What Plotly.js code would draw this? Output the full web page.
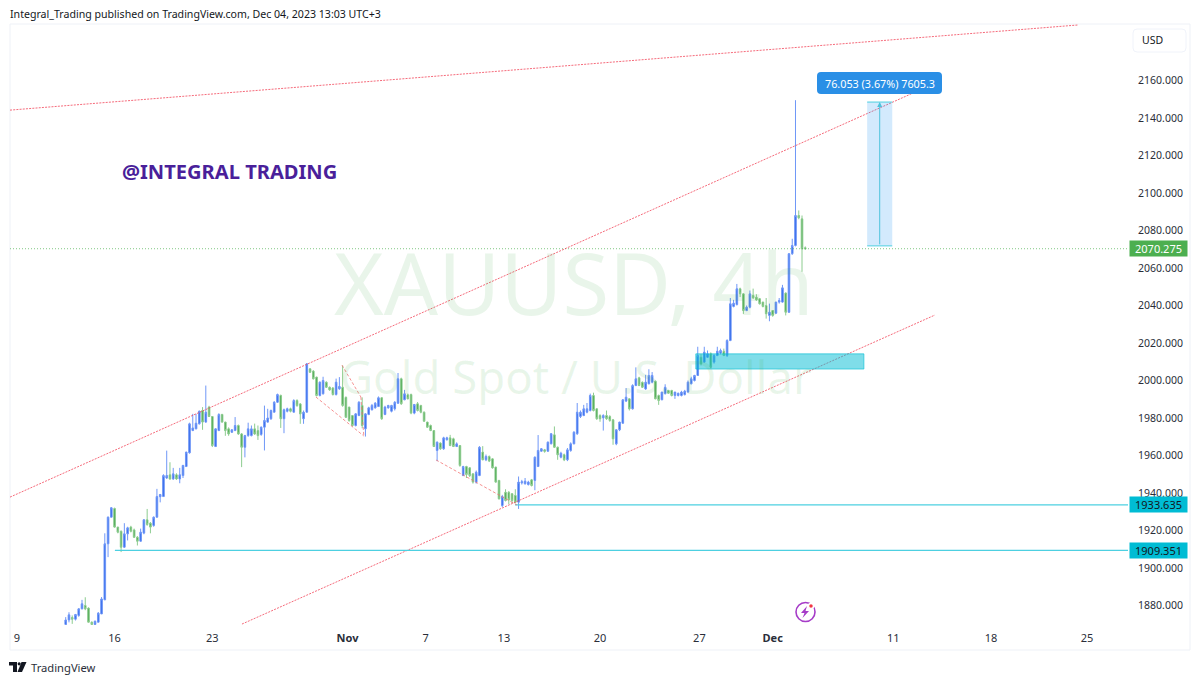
<!DOCTYPE html>
<html><head><meta charset="utf-8">
<script src="https://cdn.plot.ly/plotly-3.0.1.min.js"></script>
<style>html,body{margin:0;padding:0;background:#fff}#c{width:1200px;height:683px}</style>
</head><body><div id="c"></div>
<script>
const opens=[1869.9,1872.3,1873.6,1872.7,1874.7,1878.2,1880,1878.6,1871.1,1869.9,
1871.1,1875.5,1883,1912.9,1927.1,1931.7,1921.8,1919.6,1911.1,1918.2,
1921.8,1920.3,1916.4,1914.3,1918.6,1925.7,1923.9,1922.7,1927.1,1938,
1938.1,1948,1949.7,1947.5,1949.7,1947.5,1949.3,1954.1,1961.4,1973.3,
1974.2,1976.9,1984,1977.8,1985.8,1980.8,1964.8,1973.3,1981.9,1977.8,
1974.2,1972.4,1973.3,1976,1971.5,1964.4,1970.6,1970.6,1974.2,1973.3,
1971.2,1975.1,1977.8,1979.6,1983.1,1988.4,1992,1979.6,1983.6,1984.9,
1983.1,1989.3,1987.5,1979.6,1983.1,2006.2,2005,2001.8,1992,1992.9,
1999.1,1996.4,1996,1992.5,1995.6,1996.4,1991,1985.8,1981.3,1976,
1981.3,1986.7,1974.2,1981.9,1984.4,1985.4,1986.1,1990.8,1981.9,1985.4,
1983.6,1984.9,1987.9,2000.9,1989.7,1992.4,1992.5,1982.6,1987.6,1986.7,
1983.1,1977.8,1976,1973.3,1962.7,1966.6,1963.6,1968.4,1969.4,1968.9,
1964.8,1965.3,1949.3,1954.1,1953.4,1950.2,1945.8,1949.3,1961.8,1957.7,
1959.5,1958.2,1953.8,1946.7,1933.3,1940.4,1940.4,1939.6,1938.7,1935.1,
1945.4,1944.9,1944.5,1947,1946.7,1954.1,1962.3,1963,1962.3,1966.2,
1971,1964.4,1959.1,1960.4,1957.7,1962.7,1966.2,1971.6,1980.8,1981.3,
1983.1,1984,1992,1984.9,1981.3,1980.1,1981.3,1980.8,1979,1966.2,
1973.7,1977.2,1989,1990.2,1984.9,1997.3,2001.4,1999,1995.5,1998.2,
1999.1,1999.6,1992,1989.7,1993,1994.7,1994.7,1992,1992,1992,
1992.5,1993.8,1998.2,2000,2002.7,2012.4,2009.8,2012.4,2014.2,2009.8,
2013.3,2014.6,2015.6,2013.3,2021.3,2039.5,2040.5,2048.9,2046.2,2037.3,
2039.1,2045.3,2044.4,2043.6,2041.8,2040,2034.7,2037.3,2035.9,2041.8,
2041.8,2046.6,2036.4,2067.6,2072,2088,2086.2,2070.8];
const highs=[1873.8,1876.4,1874.7,1875.5,1878.5,1883,1884.4,1879,1871.5,1872,
1876.5,1884.5,1918.5,1927.5,1932.5,1932.2,1922,1920,1923.9,1922,
1922.5,1921,1917,1921,1926,1931.5,1924.5,1927.5,1942.2,1939.5,
1950,1962.6,1956.4,1953.4,1950.5,1953.4,1955,1962,1977.5,1982.2,
1982.2,1984,1985.8,1997.3,1986.5,1981,1974.5,1982.5,1982.2,1978,
1975,1974,1980.5,1976.5,1972,1971,1977.5,1976,1977,1976,
1975.5,1986.6,1984.9,1984.5,1989,1993,1992.5,1985,1985.5,1985.5,
1990,1990,1988,1984,2009.2,2006.5,2005.5,2002,1999.5,2002,
1999.5,1996.8,1996.5,2001,2001.8,2008,1991.5,1986,1981.5,1982.5,
1989,1991,1982.5,1986,1987.5,1988.5,1991.5,1991,1986.5,1987,
1987,1989,2004,2001.5,1995,1993,1993,1987.5,1988.5,1987,
1983.5,1978,1976.5,1973.5,1967.5,1967,1970,1970,1971,1969.5,
1967,1965.5,1954.5,1954.5,1953.8,1950.5,1952,1965,1965,1960.5,
1960,1958.5,1954,1947,1939,1942,1941,1940,1942,1948.8,
1947,1948,1946.5,1947.5,1959.5,1970.9,1964,1963.5,1967.5,1972,
1975.5,1964.8,1962,1961,1964,1967,1973,1988,1984,1987,
1988,1993,1993.5,1985,1982,1982,1984,1981.5,1979.5,1974,
1978,1990,1996,1990.5,1998,2007,2002,1999.5,2003,2006,
2004.5,2000,1992.5,1994,1998,1995,1995,1994,1993.5,1994.5,
1995,2000,2002,2003,2018,2014,2018,2016,2015,2014,
2018,2017,2017,2022,2044,2043,2051.5,2049.5,2046.5,2040,
2048,2049,2046,2044,2042,2044,2041,2037.5,2042,2044,
2051,2047,2068,2075.6,2149.5,2090.7,2088,2071.5];
const lows=[1869.3,1871,1870.2,1872,1874,1878,1877.5,1871,1869.5,1869.5,
1871,1875.5,1883,1905.8,1927,1921.5,1918.5,1908.5,1910.8,1914.7,
1919,1916,1912,1914,1918,1922.5,1918.5,1922,1927,1935,
1938,1947.5,1947,1947,1947,1945.2,1948,1954,1961,1973,
1974,1976.5,1973.7,1977.5,1980.5,1964.5,1964.5,1973,1977.5,1970.5,
1970.5,1972,1973,1971,1953.8,1959,1970,1970.2,1971,1968.3,
1970.5,1962.7,1977.5,1979,1983,1988,1974.7,1971.9,1983,1983,
1983,1986,1976.9,1976.9,1983,2004,2000.5,1991.5,1991.5,1992.5,
1996,1994.5,1992,1992,1995,1986,1980,1978,1975.5,1975.5,
1981,1974.5,1970.1,1981.5,1984,1985,1986,1979,1981.5,1985,
1983,1984,1987.5,1987,1989.5,1990,1982,1982,1983.5,1982.5,
1978,1974.7,1973,1964.5,1957,1963,1963,1968,1965,1964.5,
1964.5,1954,1949,1948,1948.5,1945,1945,1949,1957.5,1957,
1956.5,1953,1945.5,1936.5,1932.5,1935.5,1934,1934.5,1934.5,1931.5,
1944.5,1944.5,1944,1943.5,1941.5,1954,1962,1961.5,1962,1966,
1964,1957.7,1958.5,1957,1957,1962,1966,1971,1980,1981,
1982.5,1983.5,1983.5,1979,1978,1973.3,1979,1978,1965.7,1965.5,
1973,1977,1988.5,1984,1984.5,1997,1997,1996,1995,1998,
1998.5,1990,1987,1989.5,1992.5,1993,1991.5,1990.2,1991.5,1991.5,
1992,1993.5,1998,1999.5,2002.5,2008,2009.5,2012,2006.5,2009,
2013,2014,2013,2012.5,2021,2039,2040,2044.5,2035.5,2037,
2038.5,2043.5,2042.5,2040.5,2039,2033,2031.6,2034,2035.5,2041,
2041.5,2034.7,2036,2067,2071.5,2086,2058,2069.8];
const closes=[1872.3,1875,1872.7,1875.2,1878.2,1880.9,1878.2,1871.1,1869.9,1871.6,
1875.9,1883.5,1912.9,1927.1,1932.1,1921.8,1919.1,1911.1,1918.2,1921.4,
1919.6,1916.4,1914.3,1919.1,1925.7,1923.2,1921.8,1927.1,1938.1,1939.2,
1949.3,1949.3,1947.5,1950.2,1947.5,1949.7,1954.7,1961.8,1976.9,1974.7,
1977.2,1983.6,1977.8,1983.1,1980.8,1965.3,1974.2,1981.9,1977.8,1973.3,
1971.5,1973.7,1976,1971.5,1964.4,1970.6,1974.2,1974.2,1971.5,1970.6,
1975.1,1978.7,1980,1984,1988.4,1992.5,1979.6,1984.4,1984.9,1983.6,
1989.3,1986.6,1982.2,1983.1,2008.9,2004.4,2000.9,1992,1999.1,2000,
1996.4,1995,1992.5,1999.1,1996.8,1986.7,1980.4,1978.7,1976,1982.2,
1988.4,1976,1982.2,1985.4,1986.7,1987.9,1990.8,1979.6,1985.8,1986.7,
1986.7,1988.4,2000.9,1987.6,1992.9,1990.2,1982.6,1987.2,1984,1983.1,
1978.3,1975.1,1973.3,1964.8,1967.1,1963.6,1969.4,1969.4,1965.3,1964.8,
1966.2,1954.7,1954.1,1949.9,1949.3,1945.8,1951.1,1964.4,1957.7,1959.5,
1957,1953.4,1945.8,1936.9,1938.1,1936,1936.4,1936,1935.1,1945.8,
1946,1946.3,1945.8,1944,1959.1,1962.7,1963.6,1962.2,1967.1,1971.6,
1964.4,1960.4,1961.2,1957.7,1963,1966.2,1972.4,1983.1,1983.1,1984.9,
1984.9,1992,1984,1979.6,1979.6,1981.3,1979.6,1978.7,1968.9,1973.7,
1977.8,1989.7,1991.1,1984.9,1997.3,2000.9,1997.3,1996.4,1999.1,2002.7,
2002.7,1990.2,1989.3,1993.8,1996.4,1993.2,1992,1993.8,1993.2,1993.8,
1994.3,1999.1,2000.9,2002.7,2013.3,2008.9,2015.1,2014.2,2007.1,2013.3,
2015.6,2016,2013.3,2021.3,2040.9,2041.2,2048.9,2046.2,2037.3,2039.1,
2046.2,2044.1,2043,2040.9,2039.5,2035.6,2036.4,2034.7,2041.8,2042.7,
2049.4,2036.4,2067.6,2072,2088,2086.8,2070.2,2070.275];
const candleIndex=opens.map((_,i)=>i);

const dateTickPositions=[-15,15,45,86.5,110.5,134.5,164,194.5,217,254,284,313.5];
const dateTickLabels=['9','16','23','<b>Nov</b>','7','13','20','27','<b>Dec</b>','11','18','25'];
const priceTicks=[1880,1900,1920,1940,1960,1980,2000,2020,2040,2060,2080,2100,2120,2140,2160];

const lastPrice=2070.275, levelA=1933.635, levelB=1909.351;

// plot-frame helpers (layout decoration only)
const W=1200,H=683,L=10,R=1128,T=24,B=625;
const X0=-17.1,X1=326.06,Y0=1869.6,Y1=2190.13;
const px=v=>(v-L)/(R-L), py=v=>(B-v)/(B-T);

function line(x0,y0,x1,y1,color,dash,width){return {type:'line',xref:'x',yref:'y',x0,y0,x1,y1,line:{color,dash,width:width||1}};}
function pxPath(points,fill){
  return {type:'path',xref:'paper',yref:'paper',path:'M'+points.map(p=>px(p[0])+','+py(p[1])).join('L')+'Z',fillcolor:fill,line:{width:0},layer:'above'};
}
function pxRound(x0,y0,x1,y1,r,fill,stroke){
  const P=(a,b)=>px(a)+','+py(b);
  return {type:'path',xref:'paper',yref:'paper',layer:'above',fillcolor:fill,line:{width:stroke?1:0,color:stroke||fill},
   path:`M${P(x0+r,y0)}L${P(x1-r,y0)}Q${P(x1,y0)} ${P(x1,y0+r)}L${P(x1,y1-r)}Q${P(x1,y1)} ${P(x1-r,y1)}L${P(x0+r,y1)}Q${P(x0,y1)} ${P(x0,y1-r)}L${P(x0,y0+r)}Q${P(x0,y0)} ${P(x0+r,y0)}Z`};
}
const RED='rgba(242,70,90,0.8)', DASHRED='rgba(242,110,110,0.75)', CYAN='#4dd0e1', DOTS='2px,1.2px';
const shapes=[
  line(X0,lastPrice,X1,lastPrice,'rgba(76,175,80,0.7)','1px,2px'),
  line(X0,1937.8,260.7,2153.8,RED,DOTS),
  line(X0,2144.2,310.7,2189.6,RED,DOTS),
  line(54.1,1870.1,266.8,2034.9,RED,DOTS),
  line(137.9,levelA,X1,levelA,CYAN,'solid',1.2),
  line(15.1,levelB,X1,levelB,CYAN,'solid',1.2),
  line(76.8,1991.2,91.5,1970.4,DASHRED,'3px,2px'),
  line(84.8,2008.2,90.6,1991.2,DASHRED,'3px,2px'),
  line(90.6,1991.2,91.5,1970.4,DASHRED,'3px,2px'),
  line(113.7,1957.6,138.5,1933.6,DASHRED,'3px,2px'),
  {type:'rect',xref:'x',yref:'y',x0:193.4,x1:245,y0:2006.1,y1:2014.2,fillcolor:'rgba(0,188,212,0.5)',line:{color:'rgba(0,188,212,0.6)',width:1}},
  {type:'rect',xref:'x',yref:'y',x0:246,x1:253.7,y0:2071.8,y1:2148.5,fillcolor:'rgba(33,150,243,0.2)',line:{width:0}},
  line(246,2148.5,253.7,2148.5,CYAN,'solid'),
  line(246,2071.8,253.7,2071.8,CYAN,'solid'),
  // outer frame
  {type:'rect',xref:'paper',yref:'paper',x0:0,x1:px(1190),y0:py(650),y1:1,line:{color:'#eef1f7',width:1},fillcolor:'rgba(0,0,0,0)',layer:'below'},
  // measure label
  pxRound(817,72,942,94,4,'#2a8fe6'),
  // currency box
  pxRound(1133,29,1186,52,4,'#ffffff','#f0f3fa'),
  // lightning icon
  {type:'circle',xref:'paper',yref:'paper',x0:px(796),x1:px(815),y0:py(621.5),y1:py(602.5),line:{color:'#a63cc8',width:1.6},fillcolor:'rgba(0,0,0,0)'},
  pxPath([[807,606],[801,613],[804.5,613],[802.5,618],[809,611],[805.5,611]],'#a63cc8'),
  {type:'circle',xref:'paper',yref:'paper',x0:px(808.5),x1:px(813.5),y0:py(608.5),y1:py(603.5),line:{width:1.5,color:'#fff'},fillcolor:'#f23645'},
  // TradingView logo
  pxPath([[9,662],[17,662],[17,672],[13,672],[13,665.5],[9,665.5]],'#131722'),
  {type:'circle',xref:'paper',yref:'paper',x0:px(17.6),x1:px(20.8),y0:py(665.4),y1:py(662.2),line:{width:0},fillcolor:'#131722'},
  pxPath([[21.5,662],[26.5,662],[22,672],[17.5,672]],'#131722')
];
const FONT='"Noto Sans", "DejaVu Sans", sans-serif', TXT='#2a2e39';
function note(text,x,y,size,color,anchor,extra){return Object.assign({text,x,y,xref:'paper',yref:'paper',xanchor:anchor||'left',yanchor:'middle',showarrow:false,font:{size,color,family:FONT}},extra||{});}
function tag(text,price,bg,fg){return {text,x:px(1158.5),y:price,xref:'paper',yref:'y',xanchor:'center',yanchor:'middle',showarrow:false,bgcolor:bg,width:57,height:15,borderpad:0,font:{size:11,color:fg,family:FONT}};}
const annotations=[
  note('XAUUSD, 4h',px(574),py(282),85,'rgba(76,175,80,0.12)','center'),
  note('Gold Spot / U.S. Dollar',px(576),py(376),45.5,'rgba(76,175,80,0.12)','center'),
  note('<b>@INTEGRAL TRADING</b>',px(120),py(171),20.1,'#4a1f9a','left'),
  note('Integral_Trading published on TradingView.com, Dec 04, 2023 13:03 UTC+3',px(7.5),py(14),10.6,'#131722','left'),
  note('TradingView',px(29),py(667),11.2,'#2a2e39','left'),
  note('USD',px(1140),py(40),10.5,'#131722','left'),
  note('76.053 (3.67%) 7605.3',px(879.5),py(83),10.8,'#ffffff','center'),
  tag(lastPrice.toFixed(3),lastPrice,'#4caf50','#ffffff'),
  tag(levelA.toFixed(3),levelA,'#00bcd4','#131722'),
  tag(levelB.toFixed(3),levelB,'#00bcd4','#131722'),
  {x:249.85,y:2148.5,ax:249.85,ay:2071.8,xref:'x',yref:'y',axref:'x',ayref:'y',text:'',showarrow:true,arrowhead:2,arrowsize:1,arrowwidth:1,arrowcolor:'#4fc3dc'}
];
const trace={type:'candlestick',x:candleIndex,open:opens,high:highs,low:lows,close:closes,
  increasing:{line:{color:'#6f97f7',width:1},fillcolor:'#2962e8'},
  decreasing:{line:{color:'#8ccc8f',width:1},fillcolor:'#43a047'},
  whiskerwidth:0,hoverinfo:'skip',showlegend:false};
const layout={width:W,height:H,margin:{l:L,r:W-R,t:T,b:H-B},paper_bgcolor:'#fff',plot_bgcolor:'rgba(0,0,0,0)',showlegend:false,
  font:{family:FONT,color:TXT},
  xaxis:{range:[X0,X1],type:'linear',rangeslider:{visible:false},showgrid:false,zeroline:false,showline:false,tickmode:'array',tickvals:dateTickPositions,ticktext:dateTickLabels,tickfont:{size:11,color:TXT,family:FONT},ticks:'outside',ticklen:3,tickcolor:'rgba(0,0,0,0)',automargin:false},
  yaxis:{range:[Y0,Y1],side:'right',showgrid:false,zeroline:false,showline:false,tickmode:'array',tickvals:priceTicks,ticktext:priceTicks.map(v=>v.toFixed(3)),tickfont:{size:10.5,color:TXT,family:FONT},ticks:'outside',ticklen:7,tickcolor:'rgba(0,0,0,0)',automargin:false},
  shapes,annotations};
Plotly.newPlot('c',[trace],layout,{staticPlot:true,displayModeBar:false});
</script></body></html>
